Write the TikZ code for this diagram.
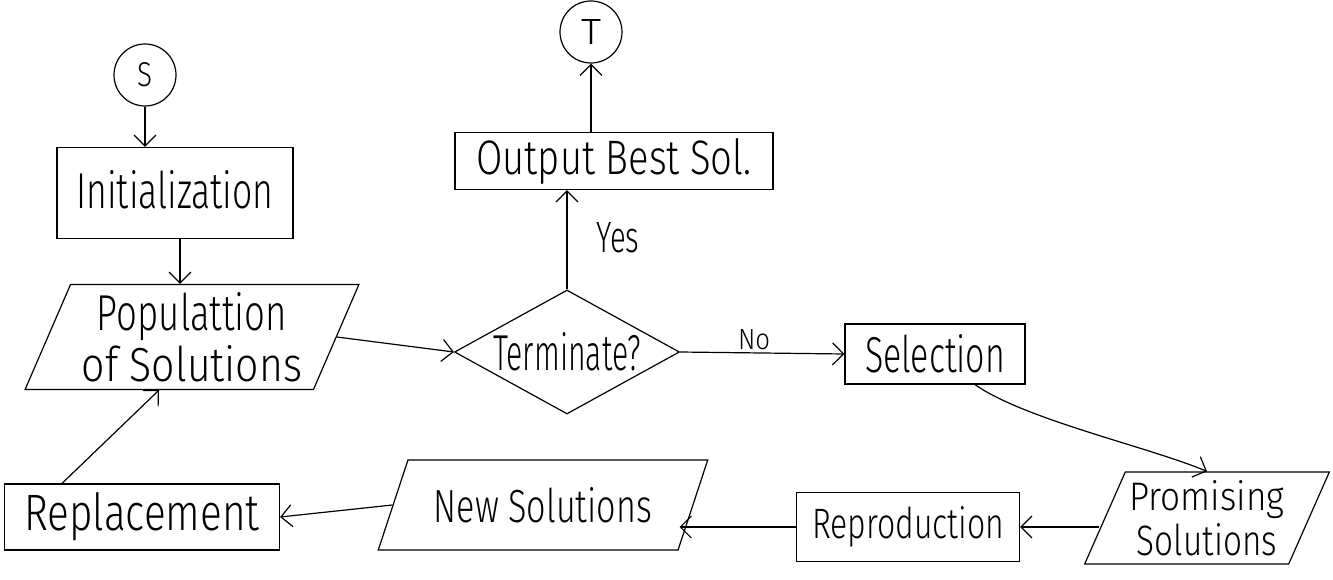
\documentclass[tikz,border=0pt]{standalone}
\usepackage{fontspec}
\setmainfont{Fira Sans}[UprightFont=* Light]
\usepackage{graphicx}
\usetikzlibrary{shapes.geometric,arrows.meta}
\newcommand\hw[3]{\resizebox{#1pt}{#2pt}{#3}}
\begin{document}
\begin{tikzpicture}[x=1pt,y=-1pt,line width=1.2pt,
  box/.style={draw,rectangle,inner sep=0pt},
  term/.style={draw,circle,inner sep=0pt,minimum size=62pt},
  dec/.style={draw,diamond,inner sep=0pt,aspect=1.8},
  io/.style={draw,trapezium,trapezium stretches=true,inner sep=0pt,align=center},
  arr/.style={-{Straight Barb[length=11pt,width=22pt,line width=1.2pt]}},
  lbl/.style={inner sep=0pt}]
\useasboundingbox (0,0) rectangle (1333,580);
\node[term] (S) at (145,75) {\hw{15}{24}{S}};
\node[term] (T) at (591,32) {\hw{20}{25}{T}};
\node[box,minimum width=236pt,minimum height=91pt] (Init) at (175,193) {\raisebox{8pt}{\hw{197}{38}{Initialization}}};
\node[io,trapezium left angle=65.4,trapezium right angle=114.6,minimum width=335pt,minimum height=105pt] (Pop) at (192,337)
  {\hw{190}{38}{Populattion}\\[4pt]\hw{220}{36}{of Solutions}};
\node[dec,minimum width=225pt,minimum height=124pt] (Term) at (567,352) {\hw{147}{38}{Terminate?}};
\node[box,minimum width=318pt,minimum height=57pt] (Out) at (614,161) {\hw{275}{36}{Output Best Sol.}};
\node[box,minimum width=180pt,minimum height=60pt] (Sel) at (935,354) {\hw{140}{38}{Selection}};
\node[io,trapezium left angle=63,trapezium right angle=117,minimum width=245pt,minimum height=92pt] (Prom) at (1207,518)
  {\hw{155}{30}{Promising}\\[4pt]\hw{140}{32}{Solutions}};
\node[box,minimum width=223pt,minimum height=69pt] (Rep) at (908,527) {\hw{192}{32}{Reproduction}};
\node[io,trapezium left angle=56,trapezium right angle=124,minimum width=330pt,minimum height=90pt] (New) at (543,505)
  {\hw{218}{35}{New Solutions}};
\node[box,minimum width=275pt,minimum height=66pt] (Repl) at (142,517) {\hw{235}{38}{Replacement}};
\node[lbl] (yes) at (618,238) {\hw{43}{30}{Yes}};
\node[lbl] (no) at (754,340) {\hw{32}{20}{No}};
\draw[arr] (S.south) -- (S.south |- Init.north);
\draw[arr] ([xshift=5pt]Init.south) -- ([xshift=5pt]Init.south |- Pop.north);
\draw[arr] (Pop.east) -- (Term.west);
\draw[arr] (Term.east) -- (Sel.west);
\draw[arr] (Term.north) -- (Term.north |- Out.south);
\draw[arr] (Out.north -| T.south) -- (T.south);
\draw[arr] ([xshift=40pt]Sel.south) .. controls +(50,35) and +(-60,-25) .. (Prom.north);
\draw[arr] ([xshift=-5pt]Prom.west |- Rep.east) -- (Rep.east);
\draw[arr] (Rep.west) -- ([xshift=-14pt]New.east |- Rep.west);
\draw[arr] (New.west) -- (Repl.east);
\draw[arr] ([xshift=-80pt]Repl.north) -- ([xshift=-33pt]Pop.south);
\end{tikzpicture}
\end{document}
